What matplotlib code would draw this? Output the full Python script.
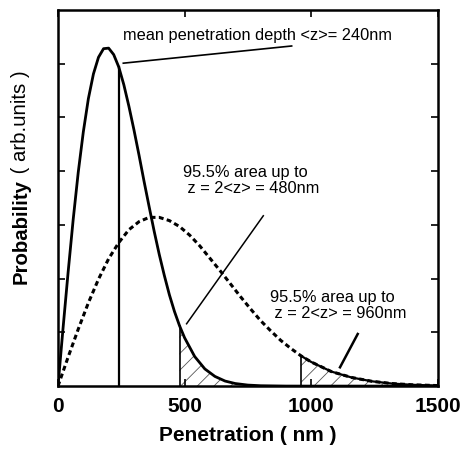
import matplotlib
matplotlib.use("Agg")
import matplotlib.pyplot as plt

plt.rcParams['font.family'] = ['Liberation Sans', 'DejaVu Sans']
plt.rcParams['hatch.linewidth'] = 0.6

# implantation profile, <z> = 240 nm (solid)
z_narrow = [0, 20, 40, 60, 80, 100, 120, 140, 160, 180, 200, 220, 240, 260, 280,
            300, 320, 340, 360, 380, 400, 420, 440, 460, 480, 500, 540, 580, 620,
            660, 700, 750, 800, 900, 1000, 1500]
p_narrow = [0.0, 1.08, 2.12, 3.10, 3.98, 4.73, 5.35, 5.81, 6.12, 6.28, 6.29, 6.17,
            5.94, 5.61, 5.21, 4.77, 4.30, 3.81, 3.34, 2.88, 2.45, 2.06, 1.70, 1.39,
            1.125, 0.90, 0.55, 0.32, 0.18, 0.094, 0.048, 0.019, 0.007, 0.0006, 0.0, 0.0]

# implantation profile, <z> = 480 nm (dashed)
z_wide = [0, 40, 80, 120, 160, 200, 240, 280, 320, 360, 400, 440, 480, 520, 560,
          600, 640, 680, 720, 760, 800, 840, 880, 920, 960, 1000, 1080, 1160, 1240,
          1320, 1400, 1500]
p_wide = [0.0, 0.54, 1.06, 1.55, 1.99, 2.37, 2.67, 2.91, 3.06, 3.14, 3.14, 3.08,
          2.97, 2.81, 2.61, 2.38, 2.15, 1.91, 1.67, 1.44, 1.22, 1.03, 0.85, 0.70,
          0.563, 0.45, 0.27, 0.16, 0.089, 0.047, 0.024, 0.0095]

mean_narrow = 240
mean_narrow_height = 5.94
cut_narrow = 480
cut_wide = 960

fig = plt.figure(figsize=(4.61, 4.50), dpi=100)
ax = fig.add_axes([0.1258, 0.142, 0.8237, 0.8358])

ax.plot(z_narrow, p_narrow, color='black', lw=2.0, solid_joinstyle='round')
ax.plot(z_wide, p_wide, color='black', lw=2.2, dashes=(1.6, 1.1))

# mean depth marker
ax.plot([mean_narrow, mean_narrow], [0, mean_narrow_height], color='black', lw=1.6)

# hatched tails beyond 2<z>
zn = [z for z in z_narrow if z >= cut_narrow]
pn = [p for z, p in zip(z_narrow, p_narrow) if z >= cut_narrow]
ax.fill_between(zn, 0, pn, facecolor='none', edgecolor='#555555', hatch='//', lw=0)
ax.plot([cut_narrow, cut_narrow], [0, pn[0]], color='black', lw=1.2)

zw = [z for z in z_wide if z >= cut_wide]
pw = [p for z, p in zip(z_wide, p_wide) if z >= cut_wide]
ax.fill_between(zw, 0, pw, facecolor='none', edgecolor='#555555', hatch='//', lw=0)
ax.plot([cut_wide, cut_wide], [0, pw[0]], color='black', lw=1.2)
ax.plot(zw, pw, color='black', lw=1.6)

# annotations
ax.text(257, 6.53, 'mean penetration depth <z>= 240nm', fontsize=11.8, va='center')
ax.plot([258, 923], [6.01, 6.33], color='black', lw=1.2)

ax.text(494, 3.83, '95.5% area up to\n z = 2<z> = 480nm', fontsize=11.8,
        va='center', linespacing=1.05)
ax.plot([508, 811], [1.16, 3.17], color='black', lw=1.1)

ax.text(838, 1.50, '95.5% area up to\n z = 2<z> = 960nm', fontsize=11.8,
        va='center', linespacing=1.05)
ax.plot([1114, 1184], [0.35, 0.97], color='black', lw=1.8)

ax.set_xlim(0, 1500)
ax.set_ylim(0, 7)
ax.set_xticks([0, 500, 1000, 1500])
ax.set_yticks([1, 2, 3, 4, 5, 6])
ax.set_yticklabels([])
ax.tick_params(direction='in', length=5, width=1.2, top=True, right=True,
               labelsize=15, pad=8)
for lab in ax.get_xticklabels():
    lab.set_fontweight('bold')
for sp in ax.spines.values():
    sp.set_linewidth(1.8)

ax.set_xlabel('Penetration ( nm )', fontsize=15, fontweight='bold', labelpad=7)

# y label: bold word, plain units right after it
ylab = fig.text(0.045, 0.486, 'Probability', rotation=90, fontsize=14.7,
                fontweight='bold', ha='center', va='center')
ax.annotate(' ( arb.units )', xy=(0.5, 1.0), xycoords=ylab, rotation=90,
            fontsize=14.7, ha='center', va='bottom')

fig.savefig('out.png', dpi=100)
